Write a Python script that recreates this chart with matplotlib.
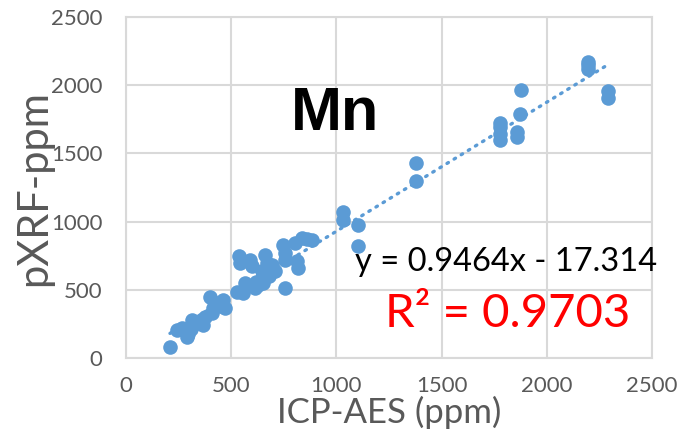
import matplotlib
matplotlib.use("Agg")
import matplotlib.pyplot as plt
import numpy as np

# ICP-AES (x) vs pXRF (y), ppm
icp = [209, 242, 266, 289, 295, 310, 313, 337, 366, 375, 408, 399, 413, 430, 461, 470, 445,
       527, 556, 565, 537, 542, 589, 599, 661, 670, 646, 646, 651, 694, 708, 746, 756, 756,
       813, 818, 837, 884, 803, 860, 755, 627, 613, 620, 680,
       1031, 1031, 1103, 1103, 1378, 1378, 1778, 1778, 1778, 1778, 1858, 1858, 1873, 1877,
       2195, 2195, 2195, 2291, 2291]
pxrf = [81, 205, 220, 156, 175, 210, 279, 257, 242, 301, 330, 447, 367, 400, 425, 367, 380,
        484, 476, 550, 748, 697, 718, 674, 755, 697, 638, 586, 550, 682, 638, 828, 770, 718,
        711, 660, 880, 865, 843, 870, 515, 535, 513, 560, 600,
        1070, 1010, 975, 820, 1430, 1295, 1720, 1690, 1640, 1600, 1660, 1620, 1790, 1965,
        2170, 2150, 2120, 1960, 1905]

slope = 0.9464
intercept = -17.314
r2 = 0.9703
element = "Mn"

xticks = [0, 500, 1000, 1500, 2000, 2500]
yticks = [0, 500, 1000, 1500, 2000, 2500]

font = ["Lato", "DejaVu Sans"]
blue = "#5B9BD5"
gray_txt = "#595959"
grid_c = "#D9D9D9"

fig = plt.figure(figsize=(6.79, 4.37), dpi=100)
ax = fig.add_axes([126/679, 1-358/437, (652-126)/679, (358-17)/437])

ax.scatter(icp, pxrf, s=10.5**2, color=blue, zorder=3, linewidths=0)
xs = np.array([min(icp), max(icp)])
ax.plot(xs, slope*xs + intercept, color=blue, lw=2.4, linestyle=(0, (0.5, 2.0)),
        dash_capstyle="round", zorder=4)

ax.set_xlim(0, 2500)
ax.set_ylim(0, 2500)
ax.set_xticks(xticks)
ax.set_yticks(yticks)
ax.set_xticklabels([str(t) for t in xticks], family=font, fontsize=16, color=gray_txt)
ax.set_yticklabels([str(t) for t in yticks], family=font, fontsize=16, color=gray_txt)
ax.tick_params(axis="both", length=0)
ax.tick_params(axis="x", pad=13)
ax.tick_params(axis="y", pad=17)
ax.grid(True, color=grid_c, lw=1.5, zorder=0)
ax.set_axisbelow(True)
for s in ax.spines.values():
    s.set_color(grid_c)
    s.set_linewidth(1.5)

ax.set_xlabel("ICP-AES (ppm)", family=font, fontsize=25, color=gray_txt, labelpad=0)
ax.set_ylabel("pXRF-ppm", family=font, fontsize=30, color=gray_txt, labelpad=0)
ax.xaxis.set_label_coords(0.5, -0.112)
ax.yaxis.set_label_coords(-0.138, 0.5)

fig.text(335/679, 1-114/437, element, family=["Liberation Sans", "DejaVu Sans"],
         fontweight="bold", fontsize=44, color="black", ha="center", va="center")
fig.text(506/679, 1-262/437, f"y = {slope}x - {abs(intercept)}", family=font,
         fontsize=23.5, color="black", ha="center", va="center")
fig.text(508/679, 1-314/437, f"R² = {r2}", family=font,
         fontsize=34, color="#FF0000", ha="center", va="center")

fig.savefig("out.png", dpi=100)
